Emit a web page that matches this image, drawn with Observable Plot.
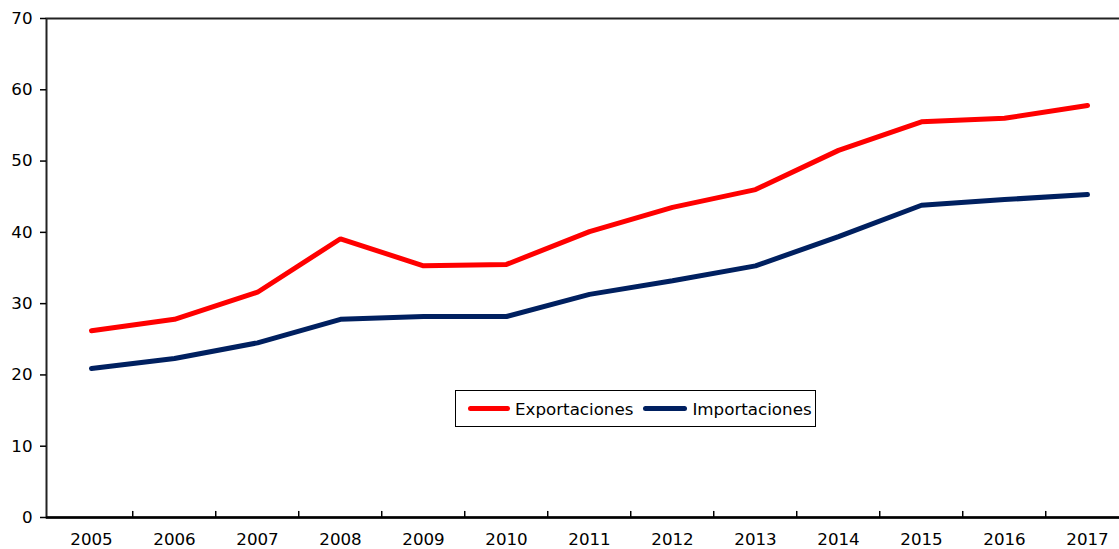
<!DOCTYPE html>
<html>
<head>
<meta charset="utf-8">
<script src="https://cdn.jsdelivr.net/npm/d3@7"></script>
<script src="https://cdn.jsdelivr.net/npm/@observablehq/plot@0.6"></script>
<style>
  html, body { margin: 0; padding: 0; background: #fff; overflow: hidden; }
  #wrap { position: relative; width: 1119px; height: 549px; overflow: hidden; font-family: "DejaVu Sans", Verdana, sans-serif; }
  #wrap svg { max-width: none !important; display: block; }
  #legend { position: absolute; left: 455px; top: 390px; width: 359px; height: 35px; border: 1.5px solid #000; background: #fff;
            display: flex; align-items: center; font-size: 16.7px; color: #000; box-sizing: content-box; white-space: nowrap; }
  .sw { display: inline-block; height: 5px; border-radius: 3px; margin-right: 5px; flex: none; }
</style>
</head>
<body>
<div id="wrap"></div>
<script>
const years = ["2005","2006","2007","2008","2009","2010","2011","2012","2013","2014","2015","2016","2017"];
const exportaciones = [26.2, 27.8, 31.6, 39.1, 35.3, 35.5, 40.1, 43.5, 46.0, 51.5, 55.5, 56.0, 57.8];
const importaciones = [20.9, 22.3, 24.5, 27.8, 28.2, 28.2, 31.3, 33.2, 35.3, 39.4, 43.8, 44.6, 45.3];
const yTicks = [0, 10, 20, 30, 40, 50, 60, 70];
const seriesNames = ["Exportaciones", "Importaciones"];
const seriesColors = ["#ff0000", "#002060"];

const data = [];
years.forEach((y, i) => {
  data.push({year: y, value: exportaciones[i], serie: seriesNames[0]});
  data.push({year: y, value: importaciones[i], serie: seriesNames[1]});
});

const W = 1132, ML = 46, MR = 0;
const step = (W - ML - MR) / years.length;

const chart = Plot.plot({
  width: W,
  height: 549,
  marginLeft: ML,
  marginRight: MR,
  marginTop: 18,
  marginBottom: 32,
  style: {fontFamily: "'DejaVu Sans', Verdana, sans-serif", fontSize: "16.7px", color: "#000", background: "#fff", maxWidth: "none"},
  x: {type: "point", domain: years, padding: 0.5, label: null},
  y: {domain: [0, 70], label: null},
  color: {domain: seriesNames, range: seriesColors},
  marks: [
    Plot.frame({stroke: "#222", strokeWidth: 2}),
    Plot.axisY({ticks: yTicks, tickSize: 6, tickPadding: 8, fontSize: 16.7, label: null, strokeWidth: 1.5}),
    Plot.axisX({tickSize: 0, tickPadding: 16, fontSize: 16.7, label: null}),
    Plot.ruleX(years.slice(1), {x: d => d, y1: 0, y2: 0.85, dx: -step / 2, stroke: "#000", strokeWidth: 1.5}),
    Plot.ruleY([0], {stroke: "#000", strokeWidth: 2.5}),
    Plot.line(data, {x: "year", y: "value", z: "serie", stroke: "serie", strokeWidth: 5, strokeLinecap: "round", strokeLinejoin: "miter"})
  ]
});

const wrap = document.getElementById("wrap");
wrap.appendChild(chart);

const legend = document.createElement("div");
legend.id = "legend";
legend.innerHTML =
  `<span style="width:12px;flex:none"></span><span class="sw" style="width:42px;background:${seriesColors[0]}"></span><span>${seriesNames[0]}</span>` +
  `<span style="width:10px;flex:none"></span><span class="sw" style="width:44px;background:${seriesColors[1]}"></span><span>${seriesNames[1]}</span>`;
wrap.appendChild(legend);
</script>
</body>
</html>
